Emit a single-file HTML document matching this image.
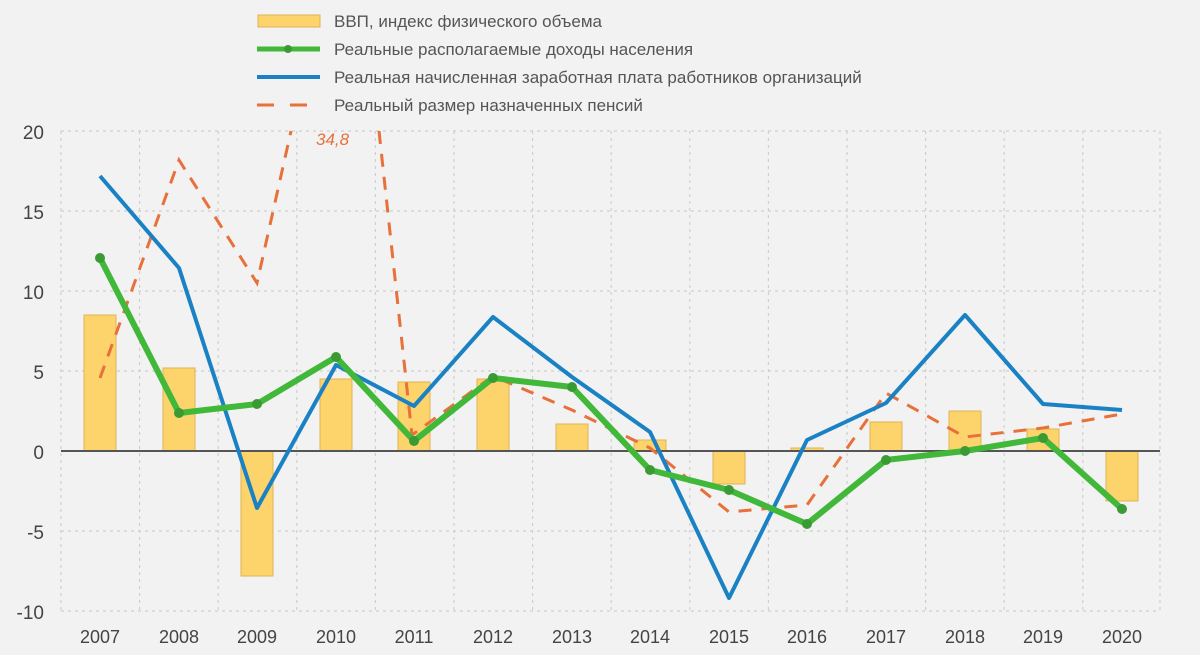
<!DOCTYPE html>
<html><head><meta charset="utf-8"><style>
html,body{margin:0;padding:0;background:#f2f2f2;}
svg{display:block;font-family:"Liberation Sans",sans-serif;}
</style></head><body>
<svg width="1200" height="655" viewBox="0 0 1200 655">
<rect width="1200" height="655" fill="#f2f2f2"/>
<g stroke="#cfcfcf" stroke-width="1.2" stroke-dasharray="3,4">
<line x1="61" y1="131" x2="1160" y2="131"/><line x1="61" y1="211" x2="1160" y2="211"/><line x1="61" y1="291" x2="1160" y2="291"/><line x1="61" y1="371" x2="1160" y2="371"/><line x1="61" y1="531" x2="1160" y2="531"/><line x1="61" y1="611" x2="1160" y2="611"/>
<line x1="61" y1="131" x2="61" y2="611"/><line x1="139.6" y1="131" x2="139.6" y2="611"/><line x1="218.2" y1="131" x2="218.2" y2="611"/><line x1="296.8" y1="131" x2="296.8" y2="611"/><line x1="375.4" y1="131" x2="375.4" y2="611"/><line x1="454" y1="131" x2="454" y2="611"/><line x1="532.6" y1="131" x2="532.6" y2="611"/><line x1="611.2" y1="131" x2="611.2" y2="611"/><line x1="689.8" y1="131" x2="689.8" y2="611"/><line x1="768.4" y1="131" x2="768.4" y2="611"/><line x1="847" y1="131" x2="847" y2="611"/><line x1="925.6" y1="131" x2="925.6" y2="611"/><line x1="1004.2" y1="131" x2="1004.2" y2="611"/><line x1="1082.8" y1="131" x2="1082.8" y2="611"/><line x1="1160" y1="131" x2="1160" y2="611"/>
</g>
<g fill="#fdd36b" stroke="#e0b456" stroke-width="1">
<rect x="84" y="315" width="32" height="136"/>
<rect x="163" y="368" width="32" height="83"/>
<rect x="241" y="451" width="32" height="125"/>
<rect x="320" y="379" width="32" height="72"/>
<rect x="398" y="382" width="32" height="69"/>
<rect x="477" y="379" width="32" height="72"/>
<rect x="556" y="424" width="32" height="27"/>
<rect x="634" y="440" width="32" height="11"/>
<rect x="713" y="451" width="32" height="33"/>
<rect x="791" y="448" width="32" height="3"/>
<rect x="870" y="422" width="32" height="29"/>
<rect x="949" y="411" width="32" height="40"/>
<rect x="1027" y="429" width="32" height="22"/>
<rect x="1106" y="451" width="32" height="50"/>
</g>
<line x1="61" y1="451" x2="1160" y2="451" stroke="#555" stroke-width="2"/>
<g fill="#444" font-size="19" text-anchor="end">
<text x="44" y="139">20</text><text x="44" y="219">15</text><text x="44" y="299">10</text><text x="44" y="379">5</text><text x="44" y="459">0</text><text x="44" y="539">-5</text><text x="44" y="619">-10</text>
</g>
<g fill="#444" font-size="18" text-anchor="middle">
<text x="100" y="643">2007</text><text x="179" y="643">2008</text><text x="257" y="643">2009</text><text x="336" y="643">2010</text><text x="414" y="643">2011</text><text x="493" y="643">2012</text><text x="572" y="643">2013</text><text x="650" y="643">2014</text><text x="729" y="643">2015</text><text x="807" y="643">2016</text><text x="886" y="643">2017</text><text x="965" y="643">2018</text><text x="1043" y="643">2019</text><text x="1122" y="643">2020</text>
</g>
<polyline fill="none" stroke="#e8703a" stroke-width="3" stroke-dasharray="13,10" points="100,378 179,160 257,283 291,131"/>
<polyline fill="none" stroke="#e8703a" stroke-width="3" stroke-dasharray="13,10" points="379,131 412,435 493,376 572,410 650,448 729,512 807,505 886,393 965,437 1043,428 1122,414"/>
<polyline fill="none" stroke="#1a82c4" stroke-width="4" stroke-linejoin="round" points="100,176 179,268 257,508 336,365 414,406 493,317 572,377 650,432 729,598 807,440 886,403 965,315 1043,404 1122,410"/>
<polyline fill="none" stroke="#42b83a" stroke-width="6" stroke-linejoin="round" points="100,258 179,413 257,404 336,357 414,441 493,378 572,387 650,470 729,490 807,524 886,460 965,451 1043,438 1122,509"/>
<g fill="#3a9a33">
<circle cx="100" cy="258" r="5"/><circle cx="179" cy="413" r="5"/><circle cx="257" cy="404" r="5"/><circle cx="336" cy="357" r="5"/><circle cx="414" cy="441" r="5"/><circle cx="493" cy="378" r="5"/><circle cx="572" cy="387" r="5"/><circle cx="650" cy="470" r="5"/><circle cx="729" cy="490" r="5"/><circle cx="807" cy="524" r="5"/><circle cx="886" cy="460" r="5"/><circle cx="965" cy="451" r="5"/><circle cx="1043" cy="438" r="5"/><circle cx="1122" cy="509" r="5"/>
</g>
<text x="316" y="145" fill="#e8703a" font-size="17" font-style="italic">34,8</text>
<rect x="258" y="15" width="62" height="12" fill="#fdd36b" stroke="#e0b456"/>
<line x1="257" y1="49" x2="320" y2="49" stroke="#42b83a" stroke-width="5"/><circle cx="288" cy="49" r="4" fill="#3a9a33"/>
<line x1="257" y1="77" x2="320" y2="77" stroke="#1a82c4" stroke-width="4"/>
<line x1="257" y1="105" x2="320" y2="105" stroke="#e8703a" stroke-width="3" stroke-dasharray="17,16"/>
<g fill="#555" font-size="17">
<text x="334" y="27">ВВП, индекс физического объема</text>
<text x="334" y="55">Реальные располагаемые доходы населения</text>
<text x="334" y="83">Реальная начисленная заработная плата работников организаций</text>
<text x="334" y="111">Реальный размер назначенных пенсий</text>
</g>
</svg>
</body></html>
